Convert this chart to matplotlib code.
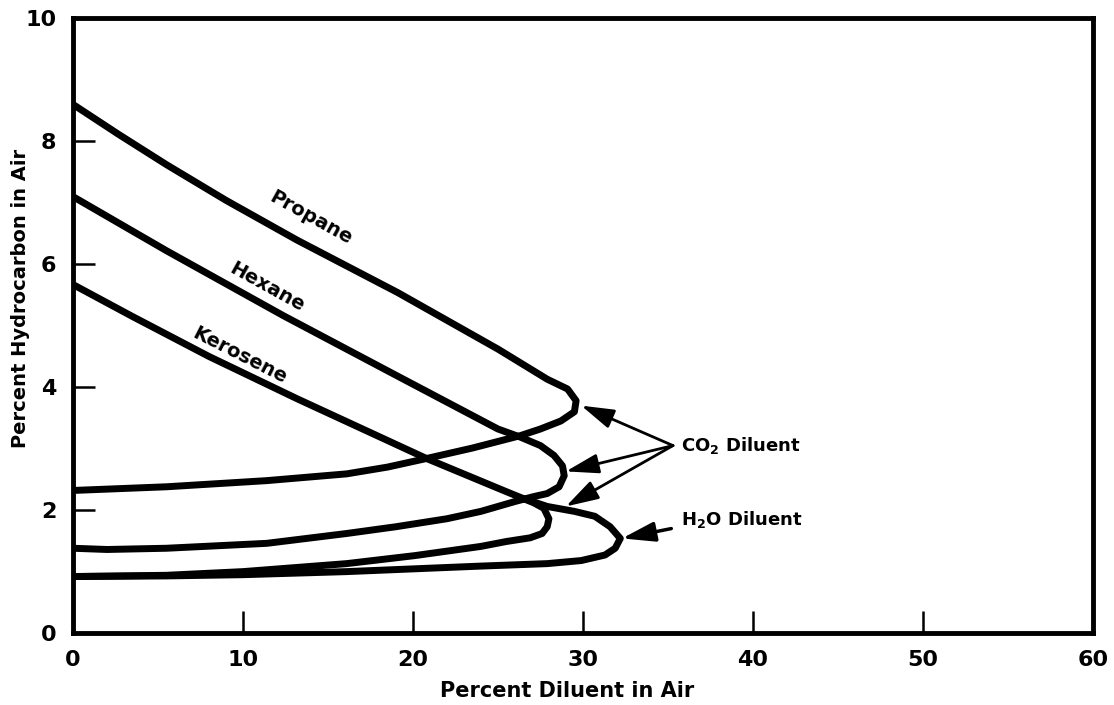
import matplotlib.pyplot as plt

plt.rcParams['font.family'] = ['DejaVu Sans']
plt.rcParams['font.weight'] = 'bold'
plt.rcParams['mathtext.fontset'] = 'custom'
plt.rcParams['mathtext.rm'] = 'DejaVu Sans:bold'
plt.rcParams['mathtext.bf'] = 'DejaVu Sans:bold'
plt.rcParams['mathtext.default'] = 'bf'

# flammability envelopes, traced along the loop: upper limit -> nose -> lower limit
propane_x = [0, 2.7, 5.5, 9.0, 13.2, 19.1, 25.0, 27.9, 29.1, 29.6, 29.5, 28.7, 27.5, 26.3,
             23.5, 20.8, 18.5, 16.1, 11.4, 5.5, 0]
propane_y = [8.6, 8.11, 7.62, 7.04, 6.39, 5.54, 4.62, 4.13, 3.97, 3.78, 3.60, 3.45, 3.32, 3.21,
             3.01, 2.84, 2.70, 2.59, 2.48, 2.38, 2.32]

hexane_x = [0, 5.5, 12.4, 19.1, 25.0, 26.3, 27.5, 28.3, 28.8, 28.9, 28.6, 27.9, 27.1, 26.0,
            24.0, 22.0, 19.0, 16.1, 11.4, 5.5, 2.0, 0]
hexane_y = [7.1, 6.22, 5.16, 4.18, 3.32, 3.19, 3.05, 2.89, 2.72, 2.56, 2.38, 2.27, 2.22, 2.14,
            1.98, 1.86, 1.73, 1.62, 1.46, 1.38, 1.36, 1.38]

kero_co2_x = [0, 3.5, 8.0, 13.2, 16.1, 20.8, 25.5, 27.1, 27.7, 28.0, 27.9, 27.6, 26.9, 25.5,
              24.0, 20.1, 16.1, 10.0, 5.5, 0]
kero_co2_y = [5.67, 5.15, 4.5, 3.81, 3.44, 2.84, 2.30, 2.12, 2.03, 1.86, 1.73, 1.62, 1.55, 1.49,
              1.41, 1.26, 1.13, 1.0, 0.94, 0.92]

kero_h2o_x = [26.5, 27.9, 29.5, 30.7, 31.6, 32.2, 31.9, 31.3, 29.9, 27.9, 24.0, 16.1, 10.0, 5.5, 0]
kero_h2o_y = [2.19, 2.06, 1.98, 1.90, 1.73, 1.54, 1.38, 1.27, 1.18, 1.13, 1.09, 1.0, 0.95, 0.93, 0.92]

co2_arrow_tips = [(29.9, 3.70), (29.0, 2.63), (29.0, 2.06)]
co2_arrow_src = (35.3, 3.05)
h2o_arrow_tip = (32.3, 1.54)
h2o_arrow_src = (35.2, 1.70)

fig = plt.figure(figsize=(11.14, 7.05), dpi=100)
ax = fig.add_axes([0.0655, 0.102, 0.9155, 0.872])

for xs, ys in [(propane_x, propane_y), (hexane_x, hexane_y),
               (kero_co2_x, kero_co2_y), (kero_h2o_x, kero_h2o_y)]:
    ax.plot(xs, ys, color='black', lw=5, solid_joinstyle='round', solid_capstyle='round')

ax.set_xlim(0, 60)
ax.set_ylim(0, 10)
ax.set_xticks(range(0, 61, 10))
ax.set_yticks(range(0, 11, 2))
ax.tick_params(direction='in', length=16, width=1.8, labelsize=16, pad=12)
for s in ax.spines.values():
    s.set_linewidth(3.5)

ax.set_xlabel('Percent Diluent in Air', fontsize=15, fontweight='bold')
ax.set_ylabel('Percent Hydrocarbon in Air', fontsize=14, fontweight='bold')
ax.xaxis.set_label_coords(0.485, -0.078)
ax.yaxis.set_label_coords(-0.042, 0.545)

ax.text(14.0, 6.75, 'Propane', rotation=-29, fontsize=14, ha='center', va='center')
ax.text(11.4, 5.62, 'Hexane', rotation=-29, fontsize=14, ha='center', va='center')
ax.text(9.8, 4.52, 'Kerosene', rotation=-27, fontsize=14, ha='center', va='center')

ax.text(35.8, 3.05, 'CO$_2$ Diluent', fontsize=13, ha='left', va='center')
ax.text(35.8, 1.85, 'H$_2$O Diluent', fontsize=13, ha='left', va='center')

head = '-|>,head_length=1.0,head_width=0.3'
for tip in co2_arrow_tips:
    ax.annotate('', xy=tip, xytext=co2_arrow_src,
                arrowprops=dict(arrowstyle=head, color='black', lw=2, mutation_scale=20,
                                shrinkA=0, shrinkB=0))
ax.annotate('', xy=h2o_arrow_tip, xytext=h2o_arrow_src,
            arrowprops=dict(arrowstyle=head, color='black', lw=2.5, mutation_scale=20,
                            shrinkA=0, shrinkB=0))

fig.savefig('out.png', dpi=100)
